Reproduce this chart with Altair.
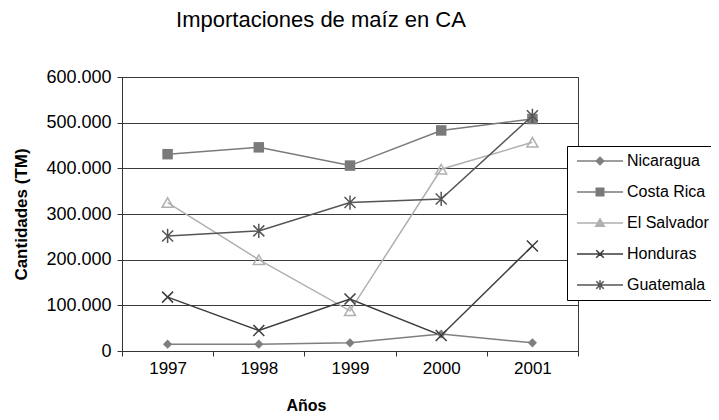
import altair as alt
import pandas as pd

# ---- data ----
years = ["1997", "1998", "1999", "2000", "2001"]
series_names = ["Nicaragua", "Costa Rica", "El Salvador", "Honduras", "Guatemala"]
nicaragua = [15000, 15000, 18000, 37000, 18000]
costa_rica = [431000, 446000, 406000, 483000, 508000]
el_salvador = [325000, 200000, 88000, 398000, 457000]
honduras = [118000, 45000, 114000, 34000, 230000]
guatemala = [252000, 263000, 325000, 333000, 515000]
y_ticks = [0, 100000, 200000, 300000, 400000, 500000, 600000]

values = [nicaragua, costa_rica, el_salvador, honduras, guatemala]

# ---- styles ----
colors = ["#7f7f7f", "#7a7a7a", "#b0b0b0", "#3c3c3c", "#555555"]
chart_shapes = [
    "diamond",
    "square",
    "triangle-up",
    "M-1,-1L1,1M-1,1L1,-1",
    "M-1,-1L1,1M-1,1L1,-1M0,-1.3V1.3",
]
chart_sizes = [85, 110, 121, 121, 121]
chart_filled = [True, True, False, False, False]
legend_shapes = [
    "M-1,0H8.2M3.6,-0.75L4.35,0L3.6,0.75L2.85,0Z",
    "M-1,0H8.2M2.85,-0.75H4.35V0.75H2.85Z",
    "M-1,0H8.2M3.6,-0.8L4.45,0.65H2.75Z",
    "M-1,0H8.2M2.85,-0.75L4.35,0.75M2.85,0.75L4.35,-0.75",
    "M-1,0H8.2M2.85,-0.75L4.35,0.75M2.85,0.75L4.35,-0.75M3.6,-0.95V0.95",
]

rows = []
for name, vals in zip(series_names, values):
    for yr, v in zip(years, vals):
        rows.append({"Año": yr, "Serie": name, "Valor": v})
df = pd.DataFrame(rows)

FONT = "Liberation Sans"

x_enc = alt.X(
    "Año:O",
    sort=years,
    scale=alt.Scale(type="band", paddingInner=0, paddingOuter=0),
    axis=alt.Axis(
        title="Años",
        tickBand="extent",
        labelAngle=0,
        labelFontSize=17,
        labelFont=FONT,
        labelColor="#000",
        labelPadding=4,
        tickSize=5,
        tickColor="#333",
        domainColor="#333",
        titleFont=FONT,
        titleFontSize=16,
        titleFontWeight="bold",
        titleColor="#000",
        titleX=184,
        titleY=54,
        titleAlign="center",
        titleBaseline="middle",
        grid=False,
    ),
)
y_enc = alt.Y(
    "Valor:Q",
    scale=alt.Scale(domain=[0, 600000], nice=False),
    axis=alt.Axis(
        title="Cantidades (TM)",
        values=y_ticks,
        labelExpr="replace(format(datum.value, ','), ',', '.')",
        labelFontSize=18,
        labelFont=FONT,
        labelColor="#000",
        labelPadding=6,
        tickSize=5,
        tickColor="#333",
        domainColor="#333",
        grid=True,
        gridColor="#3a3a3a",
        gridWidth=1,
        titleFont=FONT,
        titleFontSize=17,
        titleFontWeight="bold",
        titleColor="#000",
        titleX=-101,
        titleY=137,
        titleAngle=-90,
        titleAlign="center",
        titleBaseline="middle",
    ),
)

base = alt.Chart(df)

line_layers = []
point_layers = []
for i, name in enumerate(series_names):
    sub = base.transform_filter(alt.datum.Serie == name)
    line_layers.append(
        sub.mark_line(color=colors[i], strokeWidth=1.5).encode(x=x_enc, y=y_enc)
    )
    point_layers.append(
        sub.mark_point(
            shape=chart_shapes[i],
            size=chart_sizes[i],
            filled=chart_filled[i],
            color=colors[i],
            strokeWidth=1.5,
            opacity=1,
        ).encode(x=x_enc, y=y_enc)
    )

# legend-only layer: its marks have zero size, only its legend is visible
legend_layer = base.mark_point(filled=True, opacity=1, strokeWidth=1.5, size=0).encode(
    color=alt.Color(
        "Serie:N",
        sort=series_names,
        scale=alt.Scale(domain=series_names, range=colors),
        legend=alt.Legend(title=None),
    ),
    stroke=alt.Stroke(
        "Serie:N",
        sort=series_names,
        scale=alt.Scale(domain=series_names, range=colors),
        legend=alt.Legend(title=None),
    ),
    shape=alt.Shape(
        "Serie:N",
        sort=series_names,
        scale=alt.Scale(domain=series_names, range=legend_shapes),
        legend=alt.Legend(title=None),
    ),
)

chart = (
    alt.layer(*line_layers, *point_layers, legend_layer)
    .properties(
        width=456,
        height=274,
        title=alt.TitleParams(
            "Importaciones de maíz en CA",
            font=FONT,
            fontSize=22,
            fontWeight="normal",
            color="#000",
            anchor="middle",
            dx=-29,
            offset=36,
        ),
        autosize=alt.AutoSizeParams(type="none"),
        padding={"left": 114, "top": 69, "right": 133, "bottom": 61},
    )
    .configure_view(fill="#e4e4e4", stroke="#3a3a3a", strokeWidth=1)
    .configure_legend(
        orient="none",
        legendX=445,
        legendY=69,
        fillColor="#ffffff",
        strokeColor="#000000",
        padding=7,
        labelFont=FONT,
        labelFontSize=16,
        labelColor="#000",
        labelOffset=37,
        symbolSize=100,
        symbolStrokeWidth=1.5,
        symbolOpacity=1,
        rowPadding=15,
        labelLimit=300,
    )
)

chart.save("out.html", embed_options={"renderer": "svg", "actions": False})
